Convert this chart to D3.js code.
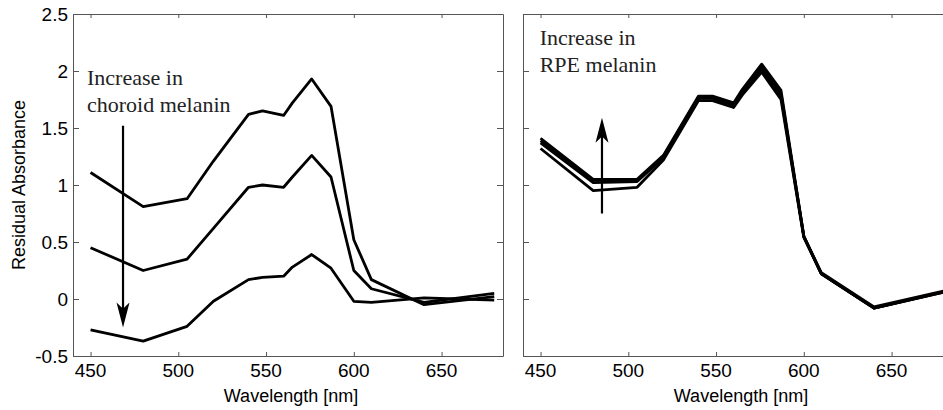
<!DOCTYPE html>
<html>
<head>
<meta charset="utf-8">
<script src="https://cdn.jsdelivr.net/npm/d3@7"></script>
<style>
  body { margin: 0; background: #fff; }
  .tick-label { font-family: "Liberation Sans", Arial, Helvetica, sans-serif; font-size: 19px; fill: #000; }
  .axis-title { font-family: "Liberation Sans", Arial, Helvetica, sans-serif; font-size: 18px; fill: #000; }
  .note { font-family: "Liberation Serif", "Times New Roman", serif; font-size: 22px; fill: #222; }
</style>
</head>
<body>
<svg id="chart" width="943" height="410"></svg>
<script>
// wavelengths sampled (nm)
const wavelengths = [450, 480, 505, 520, 540, 548, 560, 565, 576, 587, 600, 610, 640, 680]

// left panel: increasing choroid melanin (top -> bottom)
const choroidLow  = [1.11, 0.81, 0.88, 1.21, 1.62, 1.65, 1.61, 1.72, 1.93, 1.69, 0.52, 0.17, -0.05, 0.02]
const choroidMid  = [0.45, 0.25, 0.35, 0.62, 0.98, 1.00, 0.98, 1.07, 1.26, 1.07, 0.25, 0.09, -0.03, 0.05]
const choroidHigh = [-0.27, -0.37, -0.24, -0.02, 0.17, 0.19, 0.20, 0.28, 0.39, 0.27, -0.02, -0.03, 0.01, -0.01]

// right panel: increasing RPE melanin (bottom -> top)
const rpe1 = [1.32, 0.95, 0.98, 1.22, 1.74, 1.74, 1.68, 1.79, 1.99, 1.75, 0.54, 0.22, -0.08, 0.06]
const rpe2 = [1.37, 1.02, 1.03, 1.24, 1.76, 1.76, 1.70, 1.81, 2.02, 1.78, 0.55, 0.22, -0.08, 0.06]
const rpe3 = [1.39, 1.04, 1.04, 1.25, 1.77, 1.77, 1.71, 1.82, 2.04, 1.80, 0.55, 0.22, -0.08, 0.065]
const rpe4 = [1.41, 1.05, 1.05, 1.26, 1.78, 1.78, 1.72, 1.84, 2.06, 1.83, 0.55, 0.23, -0.07, 0.07]

const xTicks = [450, 500, 550, 600, 650]
const yTicks = [-0.5, 0, 0.5, 1, 1.5, 2, 2.5]

const svg = d3.select("#chart")
const width = 430, height = 342

// shared scales for both panels
const xScale = d3.scaleLinear().domain([440, 685]).range([0, width])
const yScale = d3.scaleLinear().domain([-0.5, 2.5]).range([height, 0])

const line = d3.line()
  .x((d, i) => xScale(wavelengths[i]))
  .y(d => yScale(d))

/**
 * Draw one panel: box, inside ticks, curves, annotation
 */
function drawPanel(left, series, showYLabels, note) {
  const g = svg.append("g").attr("transform", `translate(${left},14)`)

  // ticks drawn inward on all four sides, MATLAB style
  const axisColor = "#555"
  const axes = [
    d3.axisBottom(xScale).tickValues(xTicks).tickSize(-4).tickFormat(""),
    d3.axisTop(xScale).tickValues(xTicks).tickSize(-4).tickFormat(""),
    d3.axisLeft(yScale).tickValues(yTicks).tickSize(-6).tickFormat(""),
    d3.axisRight(yScale).tickValues(yTicks).tickSize(-6).tickFormat("")
  ]
  const shifts = [`translate(0,${height})`, "translate(0,0)", "translate(0,0)", `translate(${width},0)`]
  axes.forEach((a, i) => {
    const ag = g.append("g").attr("transform", shifts[i]).call(a.tickSizeOuter(0))
    ag.selectAll("path,line").attr("stroke", axisColor).attr("stroke-width", 1)
  })

  // x tick labels
  g.selectAll(".xl").data(xTicks).enter().append("text")
    .attr("class", "tick-label")
    .attr("text-anchor", "middle")
    .attr("x", d => xScale(d))
    .attr("y", height + 21)
    .text(d => d)

  if (showYLabels) {
    g.selectAll(".yl").data(yTicks).enter().append("text")
      .attr("class", "tick-label")
      .attr("text-anchor", "end")
      .attr("x", -5)
      .attr("y", d => yScale(d) + 7)
      .text(d => d)

    g.append("text")
      .attr("class", "axis-title")
      .attr("text-anchor", "middle")
      .attr("transform", `translate(${-48},${height / 2}) rotate(-90)`)
      .text("Residual Absorbance")
  }

  g.append("text")
    .attr("class", "axis-title")
    .attr("text-anchor", "middle")
    .attr("x", width / 2 + 3)
    .attr("y", height + 46)
    .text("Wavelength [nm]")

  // curves
  series.forEach(s => {
    g.append("path")
      .datum(s)
      .attr("fill", "none")
      .attr("stroke", "#000")
      .attr("stroke-width", 2.8)
      .attr("stroke-linejoin", "round")
      .attr("d", line)
  })

  // annotation text
  note.lines.forEach((t, i) => {
    g.append("text")
      .attr("class", "note")
      .attr("x", xScale(note.x))
      .attr("y", yScale(note.y[i]))
      .text(t)
  })

  // arrow
  const ax = xScale(note.arrow[0])
  const y0 = yScale(note.arrow[1]), y1 = yScale(note.arrow[2])
  const dir = y1 > y0 ? 1 : -1
  const headLen = 25, headW = 6.5
  g.append("line")
    .attr("x1", ax).attr("x2", ax)
    .attr("y1", y0).attr("y2", y1 - dir * headLen * 0.6)
    .attr("stroke", "#000").attr("stroke-width", 2.2)
  g.append("path")
    .attr("fill", "#000")
    .attr("d", `M${ax},${y1} L${ax - headW},${y1 - dir * headLen} L${ax},${y1 - dir * headLen * 0.75} L${ax + headW},${y1 - dir * headLen} Z`)
}

drawPanel(73, [choroidLow, choroidMid, choroidHigh], true, {
  lines: ["Increase in", "choroid melanin"],
  x: 448, y: [1.88, 1.64],
  arrow: [468.5, 1.52, -0.25]
})

drawPanel(523, [rpe1, rpe2, rpe3, rpe4], false, {
  lines: ["Increase in", "RPE melanin"],
  x: 449.5, y: [2.23, 1.99],
  arrow: [485, 0.75, 1.59]
})
</script>
</body>
</html>
